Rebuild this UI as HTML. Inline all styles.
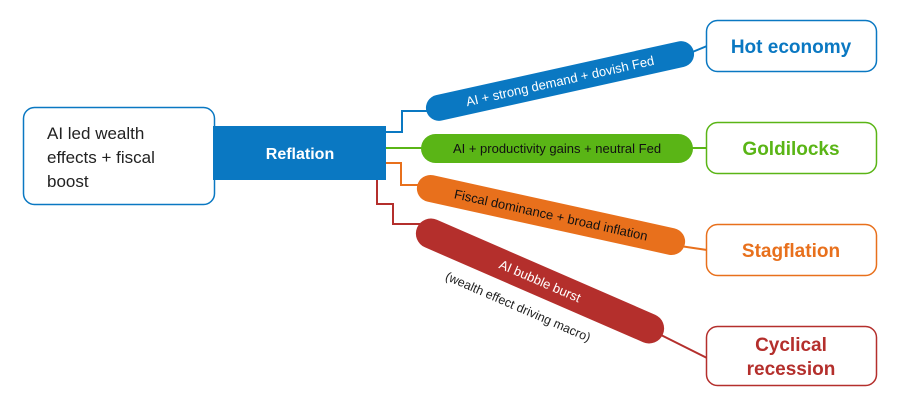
<!DOCTYPE html>
<html><head><style>
html,body{margin:0;padding:0;background:#fff;}
svg{display:block;font-family:"Liberation Sans",sans-serif;}
</style></head><body>
<svg width="900" height="406" viewBox="0 0 900 406" xmlns="http://www.w3.org/2000/svg">
<rect x="23.5" y="107.5" width="191" height="97" rx="11" fill="#fff" stroke="#0a78c2" stroke-width="1.5"/>
<text x="47" y="139" font-size="17" fill="#222">AI led wealth</text>
<text x="47" y="163" font-size="17" fill="#222">effects + fiscal</text>
<text x="47" y="187" font-size="17" fill="#222">boost</text>
<rect x="213" y="126" width="173" height="54" fill="#0a78c2"/>
<text x="300" y="159" font-size="16" font-weight="bold" fill="#fff" text-anchor="middle">Reflation</text>

<polyline points="386,132 402,132 402,111 428,111" fill="none" stroke="#0a78c2" stroke-width="2"/>
<line x1="386" y1="148" x2="422" y2="148" stroke="#5ab516" stroke-width="2"/>
<polyline points="386,163 401,163 401,185 425,185" fill="none" stroke="#e8701c" stroke-width="2"/>
<polyline points="377,180 377,204 393,204 393,224 420,224" fill="none" stroke="#b42f2c" stroke-width="2"/>
<line x1="690" y1="53" x2="707" y2="46" stroke="#0a78c2" stroke-width="2"/>
<line x1="692" y1="148" x2="707" y2="148" stroke="#5ab516" stroke-width="2"/>
<line x1="680" y1="246" x2="707" y2="250" stroke="#e8701c" stroke-width="2"/>
<line x1="655" y1="332" x2="707" y2="358" stroke="#b42f2c" stroke-width="2"/>

<g transform="translate(560,81) rotate(-12.5)">
<rect x="-137" y="-13" width="274" height="26" rx="13" fill="#0a78c2"/>
<text x="0" y="4.5" font-size="13" fill="#fff" text-anchor="middle">AI + strong demand + dovish Fed</text>
</g>
<rect x="421" y="134" width="272" height="29" rx="14.5" fill="#5ab516"/>
<text x="557" y="153" font-size="13" fill="#111" text-anchor="middle">AI + productivity gains + neutral Fed</text>
<g transform="translate(551,215) rotate(12.4)">
<rect x="-137" y="-13.5" width="274" height="27" rx="13.5" fill="#e8701c"/>
<text x="0" y="4.5" font-size="13" fill="#111" text-anchor="middle">Fiscal dominance + broad inflation</text>
</g>
<g transform="translate(540,281) rotate(23.5)">
<rect x="-134" y="-15" width="268" height="30" rx="15" fill="#b42f2c"/>
<text x="0" y="4.5" font-size="13" fill="#fff" text-anchor="middle">AI bubble burst</text>
</g>
<g transform="translate(518,307) rotate(23.5)">
<text x="0" y="4" font-size="12.5" fill="#222" text-anchor="middle">(wealth effect driving macro)</text>
</g>

<rect x="706.5" y="20.5" width="170" height="51" rx="11" fill="#fff" stroke="#0a78c2" stroke-width="1.5"/>
<text x="791" y="53" font-size="19" font-weight="bold" fill="#0a78c2" text-anchor="middle">Hot economy</text>
<rect x="706.5" y="122.5" width="170" height="51" rx="11" fill="#fff" stroke="#5ab516" stroke-width="1.5"/>
<text x="791" y="155" font-size="19" font-weight="bold" fill="#5ab516" text-anchor="middle">Goldilocks</text>
<rect x="706.5" y="224.5" width="170" height="51" rx="11" fill="#fff" stroke="#e8701c" stroke-width="1.5"/>
<text x="791" y="257" font-size="19" font-weight="bold" fill="#e8701c" text-anchor="middle">Stagflation</text>
<rect x="706.5" y="326.5" width="170" height="59" rx="11" fill="#fff" stroke="#b42f2c" stroke-width="1.5"/>
<text x="791" y="351" font-size="19" font-weight="bold" fill="#b42f2c" text-anchor="middle">Cyclical</text>
<text x="791" y="375" font-size="19" font-weight="bold" fill="#b42f2c" text-anchor="middle">recession</text>
</svg>
</body></html>
